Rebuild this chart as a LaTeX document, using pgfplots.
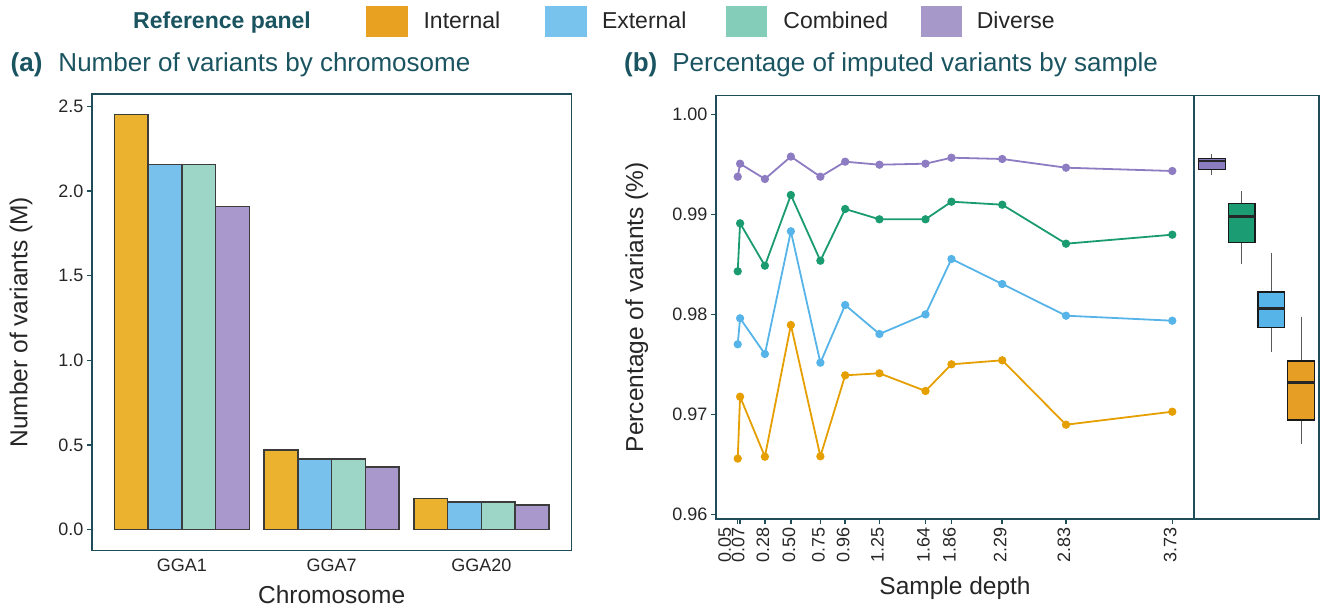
\documentclass[border=0pt]{standalone}
\usepackage{pgfplots}
\pgfplotsset{compat=1.18}
\usepgfplotslibrary{statistics}
\usepackage{pgfplotstable}
\usepackage{fontspec}
\setmainfont{Liberation Sans}

\definecolor{axisteal}{HTML}{1F4E5A}
\definecolor{titleteal}{HTML}{1B5461}
\definecolor{textgray}{HTML}{262626}
\definecolor{barInt}{HTML}{EBB22F}
\definecolor{barExt}{HTML}{77C1EC}
\definecolor{barCom}{HTML}{9DD6C7}
\definecolor{barDiv}{HTML}{A998CB}
\definecolor{barEdge}{HTML}{3C3C3C}
\definecolor{legInt}{HTML}{E8A121}
\definecolor{legExt}{HTML}{78C3EE}
\definecolor{legCom}{HTML}{84CDB9}
\definecolor{legDiv}{HTML}{A798CA}
\definecolor{lnInt}{HTML}{E69F00}
\definecolor{lnExt}{HTML}{56B4E9}
\definecolor{lnCom}{HTML}{1A9B70}
\definecolor{lnDiv}{HTML}{8E7CC3}
\definecolor{boxDiv}{HTML}{8B7BBF}
\definecolor{boxCom}{HTML}{1C9C72}
\definecolor{boxExt}{HTML}{56B4E9}
\definecolor{boxInt}{HTML}{E69F24}
\definecolor{whisk}{HTML}{5A5A5A}

% Variants per chromosome (millions); pos = group centre
\pgfplotstableread{
pos chrom internal external combined diverse
1   GGA1  2.451    2.156    2.156    1.909
2   GGA7  0.470    0.417    0.417    0.370
3   GGA20 0.183    0.163    0.163    0.144
}\chromtable

% Proportion of imputed variants by sample depth
\pgfplotstableread{
depth  internal external combined diverse
0.05   0.96557  0.97700  0.98430  0.99376
0.07   0.97176  0.97960  0.98910  0.99506
0.28   0.96576  0.97603  0.98486  0.99353
0.50   0.97893  0.98830  0.99193  0.99577
0.75   0.96580  0.97516  0.98536  0.99376
0.96   0.97390  0.98093  0.99053  0.99526
1.25   0.97410  0.97803  0.98950  0.99496
1.64   0.97233  0.97999  0.98950  0.99506
1.86   0.97500  0.98553  0.99126  0.99566
2.29   0.97540  0.98303  0.99096  0.99553
2.83   0.96896  0.97986  0.98706  0.99466
3.73   0.97026  0.97936  0.98796  0.99433
}\depthtable

\newcommand{\axlabelfont}{\fontsize{24.5}{28}\selectfont}

\pgfplotsset{
  panel/.style={
    scale only axis,
    axis line style={draw=axisteal, line width=1.2pt},
    tick style={draw=axisteal, line width=1.5pt},
    major tick length=5pt,
    tick align=outside,
    tickpos=left,
    /pgf/number format/assume math mode=true,
    every tick label/.append style={font=\fontsize{18}{21}\selectfont, text=textgray},
    title style={font=\fontsize{26}{30}\selectfont, text=titleteal, inner sep=0pt, anchor=base west},
  },
  bars/.style={ybar, bar width=0.225, bar shift=0pt, draw=barEdge, line width=1.5pt, forget plot},
  depthline/.style={line width=1.8pt, mark=*, mark size=3.2pt, mark options={solid}},
  bxp/.style={draw=black!90, line width=1.4pt},
}

\begin{document}
\begin{tikzpicture}[x=1pt, y=1pt]
\path[use as bounding box] (0,0) rectangle (1322,606);

% (a) bar chart
\begin{axis}[panel,
  at={(92pt,55.7pt)}, anchor=south west,
  width=479.3pt, height=456.3pt,
  xmin=0.4, xmax=3.6, ymin=-0.1226, ymax=2.5736,
  xtick={1,2,3}, xticklabels={GGA1,GGA7,GGA20},
  xtick style={draw=none},
  ytick={0,0.5,1,1.5,2,2.5},
  yticklabels={0.0,0.5,1.0,1.5,2.0,2.5},
  xlabel={Chromosome},
  ylabel={Number of variants (M)},
  every axis x label/.style={at={(axis description cs:0.5,-0.1155)}, anchor=base, font=\axlabelfont, text=textgray},
  every axis y label/.style={at={(axis description cs:-0.1346,0.5)}, anchor=base, rotate=90, font=\axlabelfont, text=textgray},
  title={\textbf{(a)}\hspace{16pt}Number of variants by chromosome},
  title style={at={(axis description cs:-0.170,1.0362)}},
  legend columns=5,
  legend cell align=left,
  legend style={at={(axis description cs:0.08554,1.16)}, anchor=west,
    draw=none, fill=none, inner sep=0pt, column sep=0pt, row sep=0pt,
    nodes={inner sep=0pt, text=textgray, font=\fontsize{23}{26}\selectfont}},
]
\addplot[bars, fill=barInt] table[x expr=\thisrow{pos}-0.3375, y=internal] {\chromtable};
\addplot[bars, fill=barExt] table[x expr=\thisrow{pos}-0.1125, y=external] {\chromtable};
\addplot[bars, fill=barCom] table[x expr=\thisrow{pos}+0.1125, y=combined] {\chromtable};
\addplot[bars, fill=barDiv] table[x expr=\thisrow{pos}+0.3375, y=diverse] {\chromtable};

\addlegendimage{empty legend}
\addlegendentry{\makebox[233pt][l]{\textcolor{titleteal}{\textbf{Reference panel}}}}
\addlegendimage{legend image code/.code={\fill[legInt] (0pt,-15pt) rectangle (41pt,15pt); \path (57pt,0pt);}}
\addlegendentry{\makebox[121pt][l]{Internal}}
\addlegendimage{legend image code/.code={\fill[legExt] (0pt,-15pt) rectangle (41pt,15pt); \path (57pt,0pt);}}
\addlegendentry{\makebox[124pt][l]{External}}
\addlegendimage{legend image code/.code={\fill[legCom] (0pt,-15pt) rectangle (40pt,15pt); \path (57pt,0pt);}}
\addlegendentry{\makebox[138pt][l]{Combined}}
\addlegendimage{legend image code/.code={\fill[legDiv] (0pt,-15pt) rectangle (40pt,15pt); \path (55pt,0pt);}}
\addlegendentry{Diverse}
\end{axis}

% (b) imputation rate by sample depth
\begin{axis}[panel,
  at={(716pt,87pt)}, anchor=south west,
  width=478pt, height=423.7pt,
  xmin=-0.134, xmax=3.914, ymin=0.95953, ymax=1.0019,
  xtick={0.05,0.07,0.28,0.50,0.75,0.96,1.25,1.64,1.86,2.29,2.83,3.73},
  xticklabels={\raisebox{11pt}[\height][\depth]{0.05},0.07,0.28,0.50,0.75,0.96,1.25,1.64,1.86,2.29,2.83,3.73},
  xticklabel style={xshift=-2pt, rotate=90, anchor=east},
  ytick={0.96,0.97,0.98,0.99,1.00},
  yticklabels={0.96,0.97,0.98,0.99,1.00},
  xlabel={Sample depth},
  ylabel={Percentage of variants (\%)},
  every axis x label/.style={at={(axis description cs:0.5,-0.177)}, anchor=base, font=\axlabelfont, text=textgray},
  every axis y label/.style={at={(axis description cs:-0.1527,0.5)}, anchor=base, rotate=90, font=\axlabelfont, text=textgray},
  title={\textbf{(b)}\hspace{15pt}Percentage of imputed variants by sample},
  title style={at={(axis description cs:-0.1925,1.042)}},
]
\addplot[depthline, color=lnInt] table[x=depth, y=internal] {\depthtable};
\addplot[depthline, color=lnExt] table[x=depth, y=external] {\depthtable};
\addplot[depthline, color=lnCom] table[x=depth, y=combined] {\depthtable};
\addplot[depthline, color=lnDiv] table[x=depth, y=diverse] {\depthtable};
\end{axis}

% (b) distribution per reference panel, values in percent
\begin{axis}[panel,
  at={(1194pt,87pt)}, anchor=south west,
  width=125pt, height=423.7pt,
  xmin=0.4, xmax=4.6, ymin=95.953, ymax=100.19,
  xtick=\empty, ytick=\empty,
  boxplot/draw direction=y,
  boxplot/every median/.style={line width=2.8pt, draw=black!85},
  boxplot/every whisker/.style={draw=whisk, line width=1.2pt},
]
\addplot+[bxp, fill=boxDiv, mark=none, boxplot prepared={draw position=1, lower whisker=99.390, lower quartile=99.450, median=99.533, upper quartile=99.556, upper whisker=99.603, box extend=0.9, whisker extend=0}] coordinates {};
\addplot+[bxp, fill=boxCom, mark=none, boxplot prepared={draw position=2, lower whisker=98.500, lower quartile=98.720, median=98.976, upper quartile=99.106, upper whisker=99.230, box extend=0.9, whisker extend=0}] coordinates {};
\addplot+[bxp, fill=boxExt, mark=none, boxplot prepared={draw position=3, lower whisker=97.620, lower quartile=97.866, median=98.057, upper quartile=98.223, upper whisker=98.616, box extend=0.9, whisker extend=0}] coordinates {};
\addplot+[bxp, fill=boxInt, mark=none, boxplot prepared={draw position=4, lower whisker=96.700, lower quartile=96.943, median=97.316, upper quartile=97.533, upper whisker=97.976, box extend=0.9, whisker extend=0}] coordinates {};
\end{axis}
\end{tikzpicture}
\end{document}
